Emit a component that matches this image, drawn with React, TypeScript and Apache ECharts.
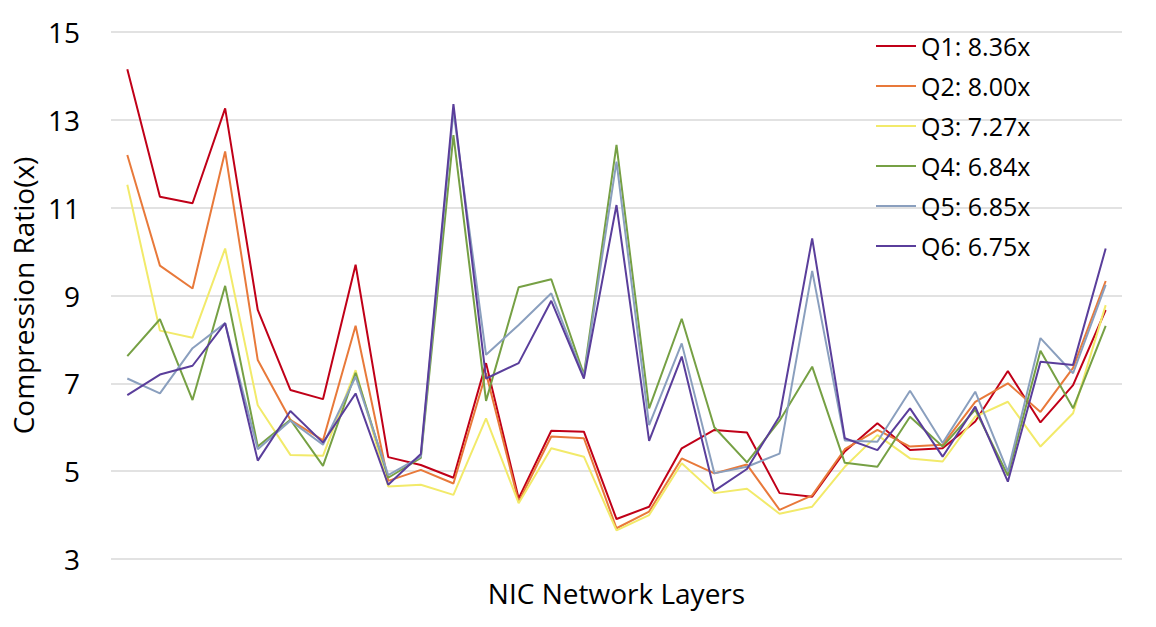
import React, { useEffect, useRef } from "react";
import * as echarts from "echarts";

const categories: string[] = Array.from({ length: 31 }, (_, i) => `L${i + 1}`);

const seriesNames = ["Q1: 8.36x", "Q2: 8.00x", "Q3: 7.27x", "Q4: 6.84x", "Q5: 6.85x", "Q6: 6.75x"];
const seriesColors = ["#C00018", "#E8793A", "#F2EA6A", "#76A044", "#8A9FBE", "#5A3E9B"];

const q1 = [14.15, 11.25, 11.1, 13.26, 8.67, 6.85, 6.64, 9.7, 5.32, 5.14, 4.85, 7.46, 4.38, 5.92, 5.9, 3.91, 4.19, 5.52, 5.94, 5.88, 4.5, 4.42, 5.45, 6.09, 5.48, 5.52, 6.13, 7.28, 6.11, 6.96, 8.67];
const q2 = [12.2, 9.68, 9.16, 12.28, 7.53, 6.17, 5.7, 8.31, 4.78, 5.03, 4.72, 7.23, 4.3, 5.79, 5.75, 3.7, 4.08, 5.29, 4.95, 5.15, 4.12, 4.45, 5.5, 5.94, 5.56, 5.6, 6.58, 7.0, 6.35, 7.35, 9.33];
const q3 = [11.52, 8.2, 8.04, 10.07, 6.5, 5.37, 5.35, 7.3, 4.65, 4.69, 4.46, 6.2, 4.27, 5.52, 5.33, 3.65, 4.0, 5.18, 4.5, 4.6, 4.03, 4.19, 5.1, 5.82, 5.29, 5.22, 6.24, 6.58, 5.56, 6.32, 8.78];
const q4 = [7.62, 8.46, 6.62, 9.22, 5.56, 6.17, 5.12, 7.24, 4.85, 5.3, 12.65, 6.6, 9.19, 9.37, 7.2, 12.43, 6.43, 8.47, 6.0, 5.2, 6.15, 7.38, 5.19, 5.1, 6.24, 5.56, 6.4, 4.9, 7.74, 6.43, 8.31];
const q5 = [7.11, 6.77, 7.8, 8.37, 5.5, 6.15, 5.6, 7.15, 4.91, 5.33, 13.2, 7.65, 8.33, 9.05, 7.15, 12.05, 6.05, 7.91, 4.95, 5.1, 5.4, 9.56, 5.7, 5.67, 6.83, 5.64, 6.81, 4.99, 8.03, 7.23, 9.24];
const q6 = [6.73, 7.2, 7.4, 8.37, 5.24, 6.37, 5.65, 6.77, 4.69, 5.39, 13.36, 7.11, 7.46, 8.88, 7.11, 11.06, 5.69, 7.61, 4.55, 5.05, 6.25, 10.3, 5.75, 5.48, 6.43, 5.33, 6.47, 4.76, 7.49, 7.42, 10.07];

const seriesValues = [q1, q2, q3, q4, q5, q6];

const yMin = 3;
const yMax = 15;
const yInterval = 2;

const FONT = "'Open Sans', 'Noto Sans', sans-serif";

export default function App() {
  const ref = useRef<HTMLDivElement>(null);

  useEffect(() => {
    if (!ref.current) return;
    const chart = echarts.init(ref.current, undefined, { renderer: "svg" });
    chart.setOption({
      animation: false,
      backgroundColor: "#ffffff",
      textStyle: { fontFamily: FONT },
      grid: { left: 111, right: 34, top: 32, bottom: 68, containLabel: false },
      legend: {
        orient: "vertical",
        left: 876,
        top: 32,
        padding: 0,
        icon: "rect",
        itemWidth: 40,
        itemHeight: 2,
        itemGap: 12,
        textStyle: { fontSize: 25, color: "#000", fontFamily: FONT, lineHeight: 28 },
        data: seriesNames,
      },
      xAxis: {
        type: "category",
        data: categories,
        boundaryGap: true,
        axisLine: { show: false },
        axisTick: { show: false },
        axisLabel: { show: false },
        splitLine: { show: false },
        name: "NIC Network Layers",
        nameLocation: "middle",
        nameGap: 20,
        nameTextStyle: { fontSize: 28, color: "#000", fontFamily: FONT },
      },
      yAxis: {
        type: "value",
        min: yMin,
        max: yMax,
        interval: yInterval,
        axisLine: { show: false },
        axisTick: { show: false },
        axisLabel: { fontSize: 28, color: "#000", margin: 31, fontFamily: FONT },
        splitLine: { lineStyle: { color: "#d9d9d9", width: 1.5 } },
        name: "Compression Ratio(x)",
        nameLocation: "middle",
        nameRotate: 90,
        nameGap: 68,
        nameTextStyle: { fontSize: 28, color: "#000", fontFamily: FONT },
      },
      series: seriesNames.map((name, i) => ({
        name,
        type: "line",
        data: seriesValues[i],
        symbol: "none",
        color: seriesColors[i],
        lineStyle: { width: 2, color: seriesColors[i] },
      })),
    });
    return () => chart.dispose();
  }, []);

  return (
    <div
      ref={ref}
      style={{ position: "absolute", left: 0, top: 0, width: 1156, height: 627 }}
    />
  );
}
